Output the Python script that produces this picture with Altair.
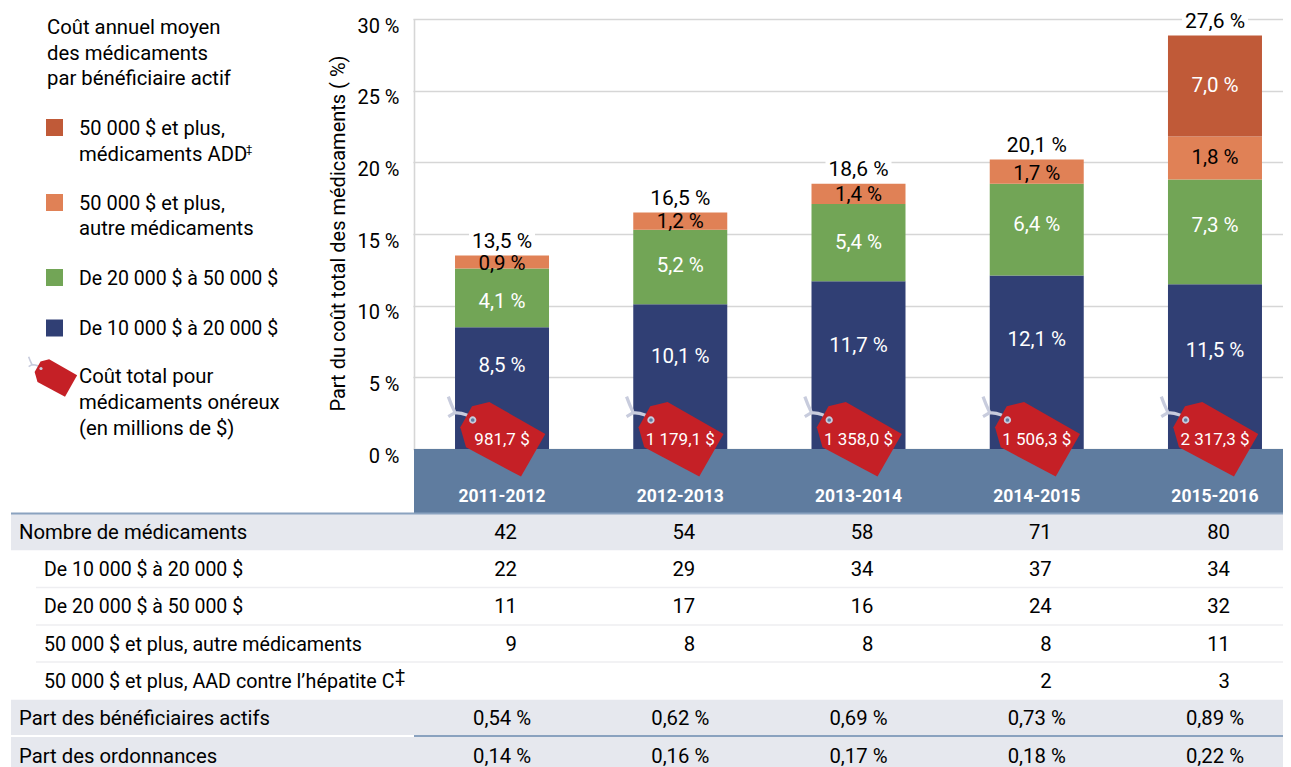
import altair as alt
import pandas as pd

years = ["2011-2012", "2012-2013", "2013-2014", "2014-2015", "2015-2016"]
series = ["De 10 000 $ à 20 000 $", "De 20 000 $ à 50 000 $", "50 000 $ et plus, autre", "50 000 $ et plus, ADD"]
colors = ["#303F74", "#72A556", "#E08156", "#C05A38"]
text_colors = ["#FFFFFF", "#FFFFFF", "#000000", "#FFFFFF"]
heights = [
    [8.5, 10.1, 11.7, 12.1, 11.5],
    [4.1, 5.2, 5.4, 6.4, 7.3],
    [0.9, 1.2, 1.4, 1.7, 3.0],
    [0, 0, 0, 0, 7.05],
]
labels = [
    ["8,5 %", "10,1 %", "11,7 %", "12,1 %", "11,5 %"],
    ["4,1 %", "5,2 %", "5,4 %", "6,4 %", "7,3 %"],
    ["0,9 %", "1,2 %", "1,4 %", "1,7 %", "1,8 %"],
    ["", "", "", "", "7,0 %"],
]
# height on the % axis at which each label sits in the reference
label_at = [
    [5.8, 6.43, 7.2, 7.62, 6.85],
    [10.27, 12.8, 14.4, 15.65, 15.58],
    [12.9, 15.85, 17.75, 19.2, 20.33],
    [0, 0, 0, 0, 25.35],
]
totals = ["13,5 %", "16,5 %", "18,6 %", "20,1 %", "27,6 %"]
costs = ["981,7 $", "1 179,1 $", "1 358,0 $", "1 506,3 $", "2 317,3 $"]

rows = ["Nombre de médicaments", "De 10 000 $ à 20 000 $", "De 20 000 $ à 50 000 $",
        "50 000 $ et plus, autre médicaments", "50 000 $ et plus, AAD contre l’hépatite C",
        "Part des bénéficiaires actifs", "Part des ordonnances"]
table = [
    ["42", "54", "58", "71", "80"],
    ["22", "29", "34", "37", "34"],
    ["11", "17", "16", "24", "32"],
    ["9", "8", "8", "8", "11"],
    ["", "", "", "2", "3"],
    ["0,54 %", "0,62 %", "0,69 %", "0,73 %", "0,89 %"],
    ["0,14 %", "0,16 %", "0,17 %", "0,18 %", "0,22 %"],
]
shaded = [rows[0], rows[5], rows[6]]

FONT = "Roboto"
FS = 20.3
FS_NUM = 19.5
L, T = 414, 19   # view origin on the page picture
R = 1283         # the page leaves no more room to the right

stack = []
for s, name in enumerate(series):
    for i, y in enumerate(years):
        base = sum(heights[k][i] for k in range(s))
        stack.append(dict(year=y, series=name, lo=base, hi=base + heights[s][i],
                          mid=label_at[s][i], label=labels[s][i], tc=text_colors[s]))
stack = pd.DataFrame(stack)
stack = stack[stack.hi > stack.lo]
tops = pd.DataFrame(dict(year=years, top=[sum(h[i] for h in heights) for i in range(5)], total=totals, cost=costs))
cells = pd.DataFrame([dict(row=r, year=y, v=table[a][b]) for a, r in enumerate(rows) for b, y in enumerate(years) if table[a][b]])

xs = alt.X("year:N", scale=alt.Scale(domain=years, range=[-1.1, 890.1], paddingInner=0, paddingOuter=0), axis=None)
pct = alt.Scale(domain=[0, 30], range=[430, 0], nice=False)
rowscale = alt.Scale(domain=rows, range=[494, 755.3], paddingInner=0, paddingOuter=0)
ypct = lambda f: alt.Y(f, scale=pct, axis=None)
yrow = alt.Y("row:N", scale=rowscale, axis=None)


def txt(s, x, y, size=FS, color="#000000", align="left", weight="normal", font=FONT):
    return alt.Chart(pd.DataFrame({"t": [s]})).mark_text(
        font=font, fontSize=size, color=color, align=align, baseline="middle", fontWeight=weight
    ).encode(text="t:N", x=alt.value(x - L), y=alt.value(y - T))


def hrule(x1, x2, y, color, w):
    return alt.Chart(pd.DataFrame({"a": [0]})).mark_rule(color=color, strokeWidth=w).encode(
        x=alt.value(x1 - L), x2=alt.value(x2 - L), y=alt.value(y - T))


layers = []
axis = alt.Axis(values=[0, 5, 10, 15, 20, 25, 30], labelExpr="datum.value + ' %'", grid=True, gridColor="#D6D6D6",
                gridWidth=1.6, domain=True, domainColor="#D6D6D6", domainWidth=1.6, ticks=False, labelOffset=7,
                labelPadding=15, labelFont=FONT, labelFontSize=20, labelColor="#000000",
                title="Part du coût total des médicaments ( %)", titleFont=FONT, titleFontSize=20,
                titleFontWeight="normal", titleColor="#000000", titleX=338 - L, titleY=233 - T, titleAngle=270,
                titleAlign="center", titleBaseline="middle")
layers.append(alt.Chart(tops).mark_bar(opacity=0).encode(x=xs, y=alt.Y("top:Q", scale=pct, axis=axis)))

layers.append(alt.Chart(stack).mark_bar(size=94).encode(
    x=xs, y=ypct("lo:Q"), y2="hi:Q",
    color=alt.Color("series:N", scale=alt.Scale(domain=series, range=colors), legend=None)))

layers.append(alt.Chart(pd.DataFrame({"a": [0]})).mark_rect(color="#5F7C9F").encode(
    x=alt.value(0), x2=alt.value(R - L), y=alt.value(449 - T), y2=alt.value(513 - T)))

layers.append(alt.Chart(pd.DataFrame({"row": shaded})).mark_bar(color="#E6E8EE").encode(
    x=alt.value(11 - L), x2=alt.value(R - L), y=yrow))
for yy in [587.5, 625, 662]:
    layers.append(hrule(36, R, yy, "#EEEEF1", 1.5))
layers.append(hrule(11, R, 513.5, "#8AA2BF", 2))
layers.append(hrule(11, 414, 736, "#FFFFFF", 2))
layers.append(hrule(414, R, 736, "#8AA2BF", 2))

layers.append(alt.Chart(stack).mark_text(font=FONT, fontSize=20.5, baseline="middle").encode(
    x=xs, y=ypct("mid:Q"), text="label:N", color=alt.Color("tc:N", scale=None)))
# white box behind the totals: interrupts the gridlines
BOX = "M-1 -0.36 L1 -0.36 L1 0.36 L-1 0.36 Z"
layers.append(alt.Chart(tops).mark_point(shape=BOX, size=4356, filled=True, color="#FFFFFF", opacity=1,
                                         yOffset=-13.5).encode(x=xs, y=ypct("top:Q")))
layers.append(alt.Chart(tops).mark_text(font=FONT, fontSize=21, baseline="middle", dy=-13.5, color="#000000").encode(
    x=xs, y=ypct("top:Q"), text="total:N"))

TAG = "M-0.6 -0.66 L-0.254 -0.746 L0.866 -0.106 L0.38 0.746 L-0.72 0.16 L-0.834 -0.24 Z"
STRS = "M-0.586 -0.386 Q-0.66 -0.52 -0.94 -0.534 L-1.074 -0.454 M-0.94 -0.534 Q-1.02 -0.7 -1.074 -0.854"
tag_y = 439.3 - T
layers.append(alt.Chart(tops).mark_point(shape=STRS, size=10000, filled=False, stroke="#C8CCDD", strokeWidth=3.2,
                                         opacity=1).encode(x=xs, y=alt.value(tag_y)))
layers.append(alt.Chart(tops).mark_point(shape=TAG, size=10000, filled=True, color="#C52026", opacity=1).encode(
    x=xs, y=alt.value(tag_y)))
layers.append(alt.Chart(tops).mark_point(shape="circle", size=30, filled=True, fill="#5F7C9F", stroke="#C8CCDD",
                                         strokeWidth=1.8, opacity=1, xOffset=-29.3, yOffset=-19.3).encode(
    x=xs, y=alt.value(tag_y)))
layers.append(alt.Chart(pd.DataFrame({"year": years, "cost": costs})).mark_text(
    font=FONT, fontSize=17, color="#FFFFFF", baseline="middle", dy=1).encode(x=xs, y=alt.value(tag_y), text="cost:N"))
layers.append(alt.Chart(pd.DataFrame({"year": years})).mark_text(
    font=FONT, fontSize=17.5, fontWeight="bold", color="#FFFFFF", baseline="middle").encode(
    x=xs, y=alt.value(497 - T), text="year:N"))

is_pct = cells[cells.v.str.contains("%")]
is_count = cells[~cells.v.str.contains("%")]
layers.append(alt.Chart(is_pct).mark_text(font=FONT, fontSize=FS, baseline="middle", color="#000000", dy=1).encode(
    x=xs, y=yrow, text="v:N"))
layers.append(alt.Chart(is_count).mark_text(font=FONT, fontSize=FS, baseline="middle", color="#000000", align="right",
                                            dx=15, dy=1).encode(x=xs, y=yrow, text="v:N"))
for who, x0, size in [([rows[0], rows[5], rows[6]], 19, FS), (rows[1:3], 44, FS_NUM), (rows[3:5], 44, 19.7)]:
    layers.append(alt.Chart(pd.DataFrame({"row": who})).mark_text(
        font=FONT, fontSize=size, baseline="middle", align="left", color="#000000", dy=1).encode(
        x=alt.value(x0 - L), y=yrow, text="row:N"))
layers.append(txt("‡", 395, 677, size=18))

for s, yy in zip(["Coût annuel moyen", "des médicaments", "par bénéficiaire actif"], [28, 54, 79]):
    layers.append(txt(s, 47, yy))
for c, yy in zip([colors[3], colors[2], colors[1], colors[0]], [127.5, 202.5, 277.5, 328]):
    layers.append(alt.Chart(pd.DataFrame({"a": [0]})).mark_point(shape="square", size=289, filled=True, color=c,
                                                                 opacity=1).encode(
        x=alt.value(54.5 - L), y=alt.value(yy - T)))
for s, yy, size in [("50 000 $ et plus,", 129, 20), ("médicaments ADD", 155, FS), ("50 000 $ et plus,", 204, 20),
                    ("autre médicaments", 229, FS), ("De 20 000 $ à 50 000 $", 279, FS_NUM),
                    ("De 10 000 $ à 20 000 $", 329, FS_NUM),
                    ("Coût total pour", 377, FS), ("médicaments onéreux", 403, FS), ("(en millions de $)", 429, FS)]:
    layers.append(txt(s, 79, yy, size=size))
layers.append(txt("‡", 246, 150, size=11))
legend_tag = pd.DataFrame({"a": [0]})
layers.append(alt.Chart(legend_tag).mark_point(shape=STRS, size=2500, filled=False, stroke="#C8CCDD",
                                               strokeWidth=1.6, opacity=1).encode(
    x=alt.value(55.5 - L), y=alt.value(378 - T)))
layers.append(alt.Chart(legend_tag).mark_point(shape=TAG, size=2500, filled=True, color="#C52026",
                                               opacity=1).encode(
    x=alt.value(55.5 - L), y=alt.value(378 - T)))
layers.append(alt.Chart(legend_tag).mark_point(shape="circle", size=10, filled=True, fill="#C8CCDD", opacity=1).encode(
    x=alt.value(41 - L), y=alt.value(368.5 - T)))

chart = alt.layer(*layers).resolve_scale(y="independent", color="independent").properties(
    width=R - L, height=748, autosize=alt.AutoSizeParams(type="none"),
    padding={"left": L - 8, "top": T - 8, "right": 0, "bottom": 0}, background="#FFFFFF"
).configure_view(stroke=None)

chart.save("out.html", embed_options={"renderer": "svg", "actions": False})
